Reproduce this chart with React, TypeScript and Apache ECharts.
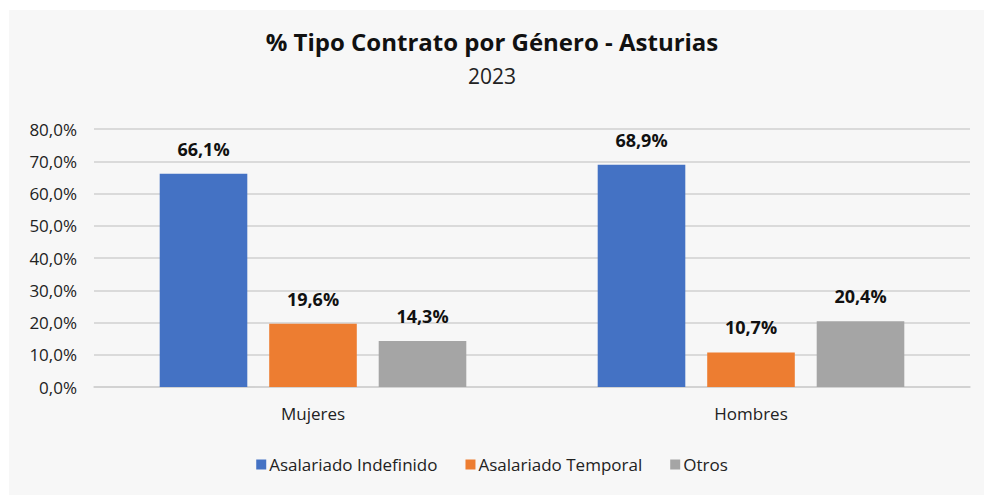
import React, { useEffect, useRef } from "react";
import * as echarts from "echarts";

const categories = ["Mujeres", "Hombres"];
const seriesNames = ["Asalariado Indefinido", "Asalariado Temporal", "Otros"];
const indefinido = [66.1, 68.9];
const temporal = [19.6, 10.7];
const otros = [14.3, 20.4];
const colors = ["#4472C4", "#ED7D31", "#A5A5A5"];
const titleText = "% Tipo Contrato por Género - Asturias";
const subtitleText = "2023";

const fmt = (v: number) => v.toFixed(1).replace(".", ",") + "%";
const FONT = "'Open Sans', 'Noto Sans', sans-serif";

export default function App() {
  const ref = useRef<HTMLDivElement>(null);
  useEffect(() => {
    if (!ref.current) return;
    const chart = echarts.init(ref.current, undefined, { renderer: "svg" });
    const values = [indefinido, temporal, otros];
    chart.setOption({
      animation: false,
      backgroundColor: "#ffffff",
      graphic: [
        {
          type: "rect",
          z: -10,
          silent: true,
          shape: { x: 9, y: 10, width: 975, height: 485 },
          style: { fill: "#f7f7f7" },
        },
      ],
      title: {
        text: titleText,
        subtext: subtitleText,
        left: "center",
        top: 24,
        itemGap: 12,
        textStyle: { fontFamily: FONT, fontWeight: "bold", fontSize: 24, color: "#111" },
        subtextStyle: { fontFamily: FONT, fontSize: 21, color: "#222" },
      },
      legend: {
        bottom: 18,
        left: "center",
        itemWidth: 10,
        itemHeight: 10,
        itemGap: 28,
        icon: "rect",
        textStyle: { fontFamily: FONT, fontSize: 17, color: "#222", padding: [0, 0, 0, -2] },
        data: seriesNames,
      },
      grid: { left: 94, right: 14, top: 129, bottom: 109, containLabel: false },
      xAxis: {
        type: "category",
        data: categories,
        axisLine: { show: true, lineStyle: { color: "#d0d0d0", width: 1.5 } },
        axisTick: { show: false },
        axisLabel: { fontFamily: FONT, fontSize: 17, color: "#222", margin: 18 },
      },
      yAxis: {
        type: "value",
        min: 0,
        max: 80,
        interval: 10,
        axisLine: { show: false },
        axisTick: { show: false },
        splitLine: { lineStyle: { color: "#d0d0d0", width: 1.5 } },
        axisLabel: {
          fontFamily: FONT,
          fontSize: 17,
          color: "#222",
          margin: 17,
          formatter: (v: number) => fmt(v),
        },
      },
      series: seriesNames.map((name, i) => ({
        name,
        type: "bar",
        data: values[i],
        barWidth: "20%",
        barGap: "25%",
        barCategoryGap: "30%",
        itemStyle: { color: colors[i] },
        label: {
          show: true,
          position: "top",
          distance: 16,
          fontFamily: FONT,
          fontWeight: "bold",
          fontSize: 18,
          color: "#111",
          formatter: (p: any) => fmt(p.value),
        },
      })),
    });
    return () => chart.dispose();
  }, []);
  return (
    <div
      ref={ref}
      style={{ position: "fixed", left: 0, top: 0, width: 984, height: 496 }}
    />
  );
}
